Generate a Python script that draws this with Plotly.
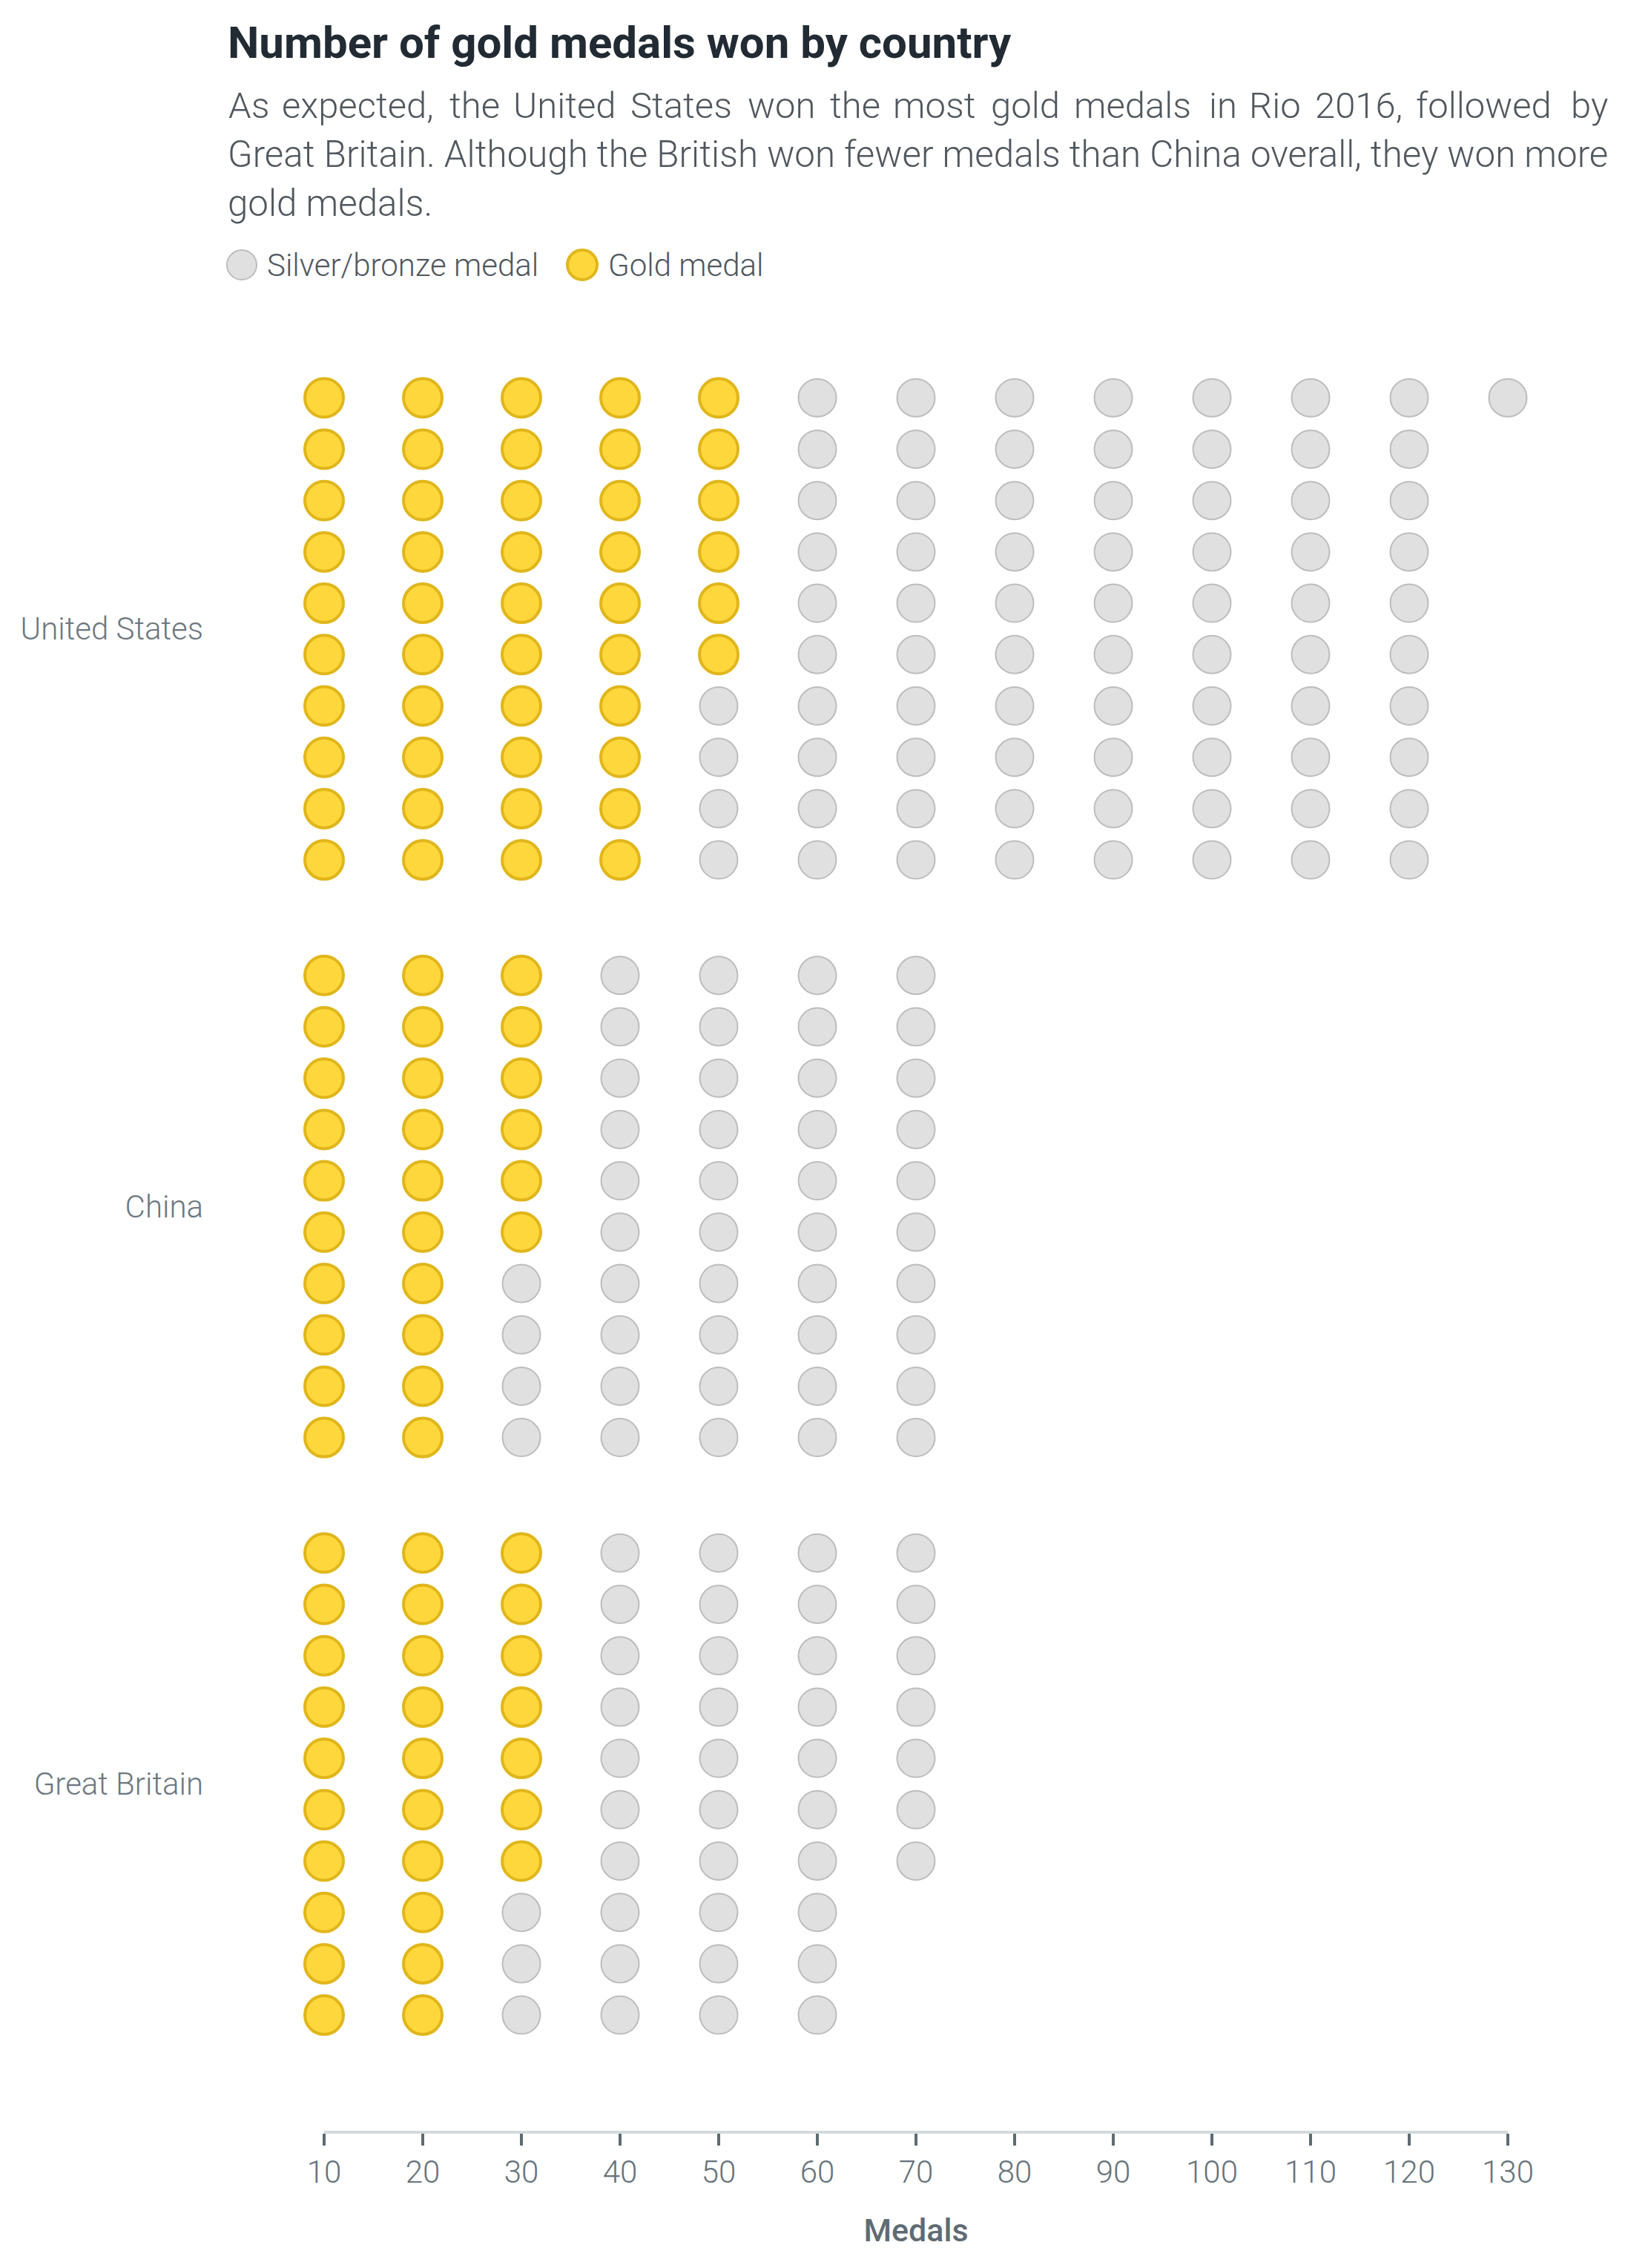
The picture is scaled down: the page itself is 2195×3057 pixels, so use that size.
import plotly.graph_objects as go

# Rio 2016 medal counts
countries = ["United States", "China", "Great Britain"]
gold_medals = [46, 26, 27]
total_medals = [121, 70, 67]

x_ticks = [10, 20, 30, 40, 50, 60, 70, 80, 90, 100, 110, 120, 130]

title_text = "Number of gold medals won by country"
# first line is justified in the original, so it's placed word by word
subtitle_first = ["As", "expected,", "the", "United", "States", "won", "the", "most", "gold",
                  "medals", "in", "Rio", "2016,", "followed", "by"]
subtitle_first_x = [306, 378, 604, 690, 848, 1006, 1117, 1202, 1334, 1446, 1628, 1682, 1771, 1907, 2116]
subtitle_rest = [
    "Great Britain. Although the British won fewer medals than China overall, they won more",
    "gold medals.",
]

# page body has an 8px margin, figure is shrunk to fit
OFF = 8
W, H = 2195 - OFF, 3057 - OFF
L, T = 437 - OFF, 460 - OFF
R = W - (2033 - OFF)
B = H - (2872 - OFF)
PW, PH = W - L - R, H - T - B

ROWS = 10
BAND = 11.25

SUB_FONT = "Roboto Light, Roboto"


def px(xp):
    return (xp - OFF - L) / PW


def py(yp):
    return (H - B - (yp - OFF)) / PH


gx, gy, sx, sy = [], [], [], []
for i, c in enumerate(countries):
    for m in range(total_medals[i]):
        col, row = m // ROWS, m % ROWS
        xv = (col + 1) * 10
        yv = i * BAND + row
        if m < gold_medals[i]:
            gx.append(xv)
            gy.append(yv)
        else:
            sx.append(xv)
            sy.append(yv)

fig = go.Figure()
fig.add_trace(go.Scatter(
    x=sx, y=sy, mode="markers", name="Silver/bronze medal", cliponaxis=False,
    marker=dict(size=51, color="#e0e0e0", line=dict(color="#bdbdbd", width=2)),
))
fig.add_trace(go.Scatter(
    x=gx, y=gy, mode="markers", name="Gold medal", cliponaxis=False,
    marker=dict(size=52, color="#fdd73b", line=dict(color="#e0b61b", width=4)),
))

# first row centre sits at 536px, rows 69.2px apart
row0, row_px = 536.3, 69.2
y_top = -(row0 - 460) / row_px
y_bot = (2872 - row0) / row_px

fig.update_layout(
    width=W, height=H,
    margin=dict(l=L, r=R, t=T, b=B),
    plot_bgcolor="white", paper_bgcolor="white",
    showlegend=False,
    font=dict(family="Roboto", color="#6c7780"),
    xaxis=dict(
        range=[10, 130], tickvals=x_ticks, showgrid=False, zeroline=False,
        showline=True, linecolor="#d5dadc", linewidth=4,
        ticks="outside", ticklen=16, tickwidth=4, tickcolor="#5f6b73",
        tickfont=dict(family=SUB_FONT, size=42, color="#66727b", weight=300),
        title=dict(text="Medals", font=dict(size=43, color="#5f6b73", weight=500), standoff=40),
    ),
    yaxis=dict(
        range=[y_bot, y_top], showgrid=False, zeroline=False, showline=False,
        tickvals=[i * BAND + (ROWS - 1) / 2 for i in range(len(countries))],
        ticktext=countries, ticks="",
        tickfont=dict(family=SUB_FONT, size=42, color="#6c7780", weight=300),
        ticklabelstandoff=162,
    ),
)

# title and subtitle
fig.add_annotation(
    text=title_text, xref="paper", yref="paper", x=px(305), y=py(58),
    xanchor="left", yanchor="middle", showarrow=False,
    font=dict(size=60, color="#222b33", weight=700),
)
for word, wx in zip(subtitle_first, subtitle_first_x):
    fig.add_annotation(
        text=word, xref="paper", yref="paper", x=px(wx), y=py(142),
        xanchor="left", yanchor="middle", showarrow=False,
        font=dict(family=SUB_FONT, size=49, color="#50575e", weight=300),
    )
for k, line in enumerate(subtitle_rest):
    fig.add_annotation(
        text=line, xref="paper", yref="paper", x=px(305), y=py(208 + 66 * k),
        xanchor="left", yanchor="middle", showarrow=False,
        font=dict(family=SUB_FONT, size=49.3, color="#50575e", weight=300),
    )

# legend
legend_items = [("Silver/bronze medal", "#e0e0e0", "#bdbdbd", 2, 326, 358),
                ("Gold medal", "#fdd73b", "#e0b61b", 4, 785, 818)]
for label, fill, edge, lw, cx, tx in legend_items:
    r = 20
    fig.add_shape(
        type="circle", xref="paper", yref="paper",
        x0=px(cx - r), x1=px(cx + r), y0=py(357 + r), y1=py(357 - r),
        fillcolor=fill, line=dict(color=edge, width=lw),
    )
    fig.add_annotation(
        text=label, xref="paper", yref="paper", x=px(tx), y=py(358),
        xanchor="left", yanchor="middle", showarrow=False,
        font=dict(family=SUB_FONT, size=42, color="#50575e", weight=300),
    )

fig.write_html("out.html")
